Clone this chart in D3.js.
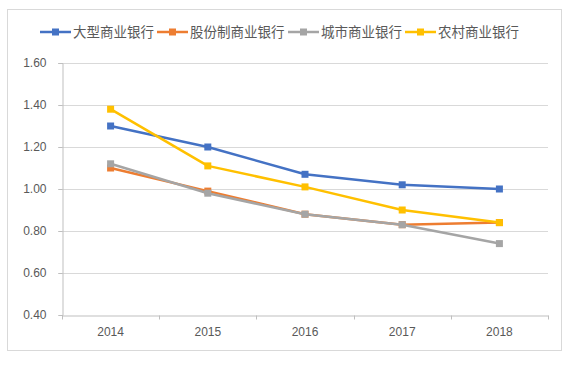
<!DOCTYPE html>
<html><head><meta charset="utf-8">
<script src="https://cdn.jsdelivr.net/npm/d3@7"></script>
<style>body{margin:0;background:#fff}svg{display:block}</style>
</head><body>
<svg id="c" width="580" height="369"></svg>
<script>
const years = ["2014","2015","2016","2017","2018"];
const seriesNames = ["大型商业银行","股份制商业银行","城市商业银行","农村商业银行"];
const seriesColors = ["#4472C4","#ED7D31","#A5A5A5","#FFC000"];
const largeBanks = [1.30,1.20,1.07,1.02,1.00];
const jointStockBanks = [1.10,0.99,0.88,0.83,0.84];
const cityBanks = [1.12,0.98,0.88,0.83,0.74];
const ruralBanks = [1.38,1.11,1.01,0.90,0.84];
const yTicks = [0.40,0.60,0.80,1.00,1.20,1.40,1.60];

const series = [largeBanks, jointStockBanks, cityBanks, ruralBanks];
const svg = d3.select("#c");
const L = 62, R = 548, T = 63, B = 315;

svg.append("rect").attr("x",7.5).attr("y",9.5).attr("width",554).attr("height",341)
  .attr("fill","#fff").attr("stroke","#d9d9d9").attr("stroke-width",1);

const x = d3.scaleBand().domain(years).range([L,R]);
const y = d3.scaleLinear().domain([0.4,1.6]).range([B,T]);

// gridlines
svg.append("g").selectAll("line").data(yTicks.slice(1)).join("line")
  .attr("x1",L-4).attr("x2",R).attr("y1",d=>Math.round(y(d))+0.5).attr("y2",d=>Math.round(y(d))+0.5)
  .attr("stroke","#d9d9d9").attr("stroke-width",1);

// y axis
const ya = svg.append("g").attr("transform",`translate(${L+0.5},0)`)
  .call(d3.axisLeft(y).tickValues(yTicks).tickFormat(d3.format(".2f")).tickSize(4).tickPadding(12));
ya.select(".domain").attr("stroke","#bfbfbf");
ya.selectAll(".tick line").attr("stroke","#bfbfbf");
ya.selectAll("text").attr("fill","#595959").style("font-family","Liberation Sans, Arial, sans-serif").style("font-size","12px");

// x axis
const xa = svg.append("g").attr("transform",`translate(0,${B+0.5})`)
  .call(d3.axisBottom(x).tickSize(0).tickPadding(12));
xa.select(".domain").attr("stroke","#bfbfbf");
xa.selectAll("text").attr("fill","#595959").style("font-family","Liberation Sans, Arial, sans-serif").style("font-size","12px");
const bounds = years.map(d=>x(d)).concat([R]);
xa.append("g").selectAll("line").data(bounds).join("line")
  .attr("x1",d=>Math.round(d)+0.5).attr("x2",d=>Math.round(d)+0.5).attr("y1",0).attr("y2",4)
  .attr("stroke","#bfbfbf");

const cx = d => x(d) + x.bandwidth()/2;
const line = d3.line().x((v,i)=>cx(years[i])).y(v=>y(v));

series.forEach((s,k)=>{
  const g = svg.append("g");
  g.append("path").datum(s).attr("d",line).attr("fill","none")
    .attr("stroke",seriesColors[k]).attr("stroke-width",2.5).attr("stroke-linejoin","round");
  g.selectAll("rect").data(s).join("rect")
    .attr("x",(v,i)=>cx(years[i])-3.5).attr("y",v=>y(v)-3.5).attr("width",7).attr("height",7)
    .attr("fill",seriesColors[k]);
});

// legend
const legendX = [40,157,288,405];
const lg = svg.append("g");
seriesNames.forEach((n,k)=>{
  const g = lg.append("g").attr("transform",`translate(${legendX[k]},32)`);
  g.append("line").attr("x1",0).attr("x2",31).attr("y1",0).attr("y2",0)
    .attr("stroke",seriesColors[k]).attr("stroke-width",2.5);
  g.append("rect").attr("x",12).attr("y",-3.5).attr("width",7).attr("height",7).attr("fill",seriesColors[k]);
  g.append("text").attr("x",33).attr("y",0).attr("dy","0.35em").text(n)
    .attr("fill","#595959").style("font-family","Noto Sans CJK SC, sans-serif").style("font-size","13.5px");
});
</script>
</body></html>
